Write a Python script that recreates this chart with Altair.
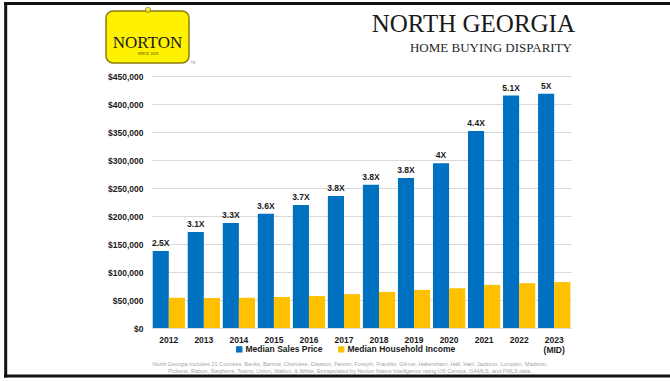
import altair as alt
import pandas as pd

years = ["2012", "2013", "2014", "2015", "2016", "2017", "2018", "2019",
         "2020", "2021", "2022", "2023 (MID)"]
sales_price = [137500, 171500, 187500, 204000, 219500, 235500, 256000, 268000,
               294000, 352000, 415000, 418500]
household_income = [54000, 53500, 54000, 55500, 57000, 60500, 64500, 68000,
                    71000, 77000, 80000, 82000]
ratio_labels = ["2.5X", "3.1X", "3.3X", "3.6X", "3.7X", "3.8X", "3.8X", "3.8X",
                "4X", "4.4X", "5.1X", "5X"]
series_names = ["Median Sales Price", "Median Household Income"]
y_ticks = [0, 50000, 100000, 150000, 200000, 250000, 300000, 350000, 400000, 450000]

title_main = "NORTH GEORGIA"
title_sub = "HOME BUYING DISPARITY"
footnote_1 = ("North Georgia includes 21 Counties: Banks, Barrow, Cherokee, Dawson, Fannin, "
              "Forsyth, Franklin, Gilmer, Habersham, Hall, Hart, Jackson, Lumpkin, Madison,")
footnote_2 = ("Pickens, Rabun, Stephens, Towns, Union, Walton, & White. Extrapolated by Norton "
              "Native Intelligence using US Census, GAMLS, and FMLS data.")

rows = []
for yr, s, inc, r in zip(years, sales_price, household_income, ratio_labels):
    rows.append({"year": yr, "series": series_names[0], "value": s, "ratio": r})
    rows.append({"year": yr, "series": series_names[1], "value": inc, "ratio": ""})
df = pd.DataFrame(rows)

SANS = "Liberation Sans"
SERIF = "Liberation Serif"

x_axis = alt.Axis(title=None, labelAngle=0, ticks=False, domain=True,
                  domainColor="#d9d9d9", labelPadding=7, labelLineHeight=10,
                  labelFont=SANS, labelFontSize=8.5, labelFontWeight="bold",
                  labelColor="#1a1a1a", labelOverlap=False,
                  labelExpr="split(datum.label, ' ')")
y_axis = alt.Axis(title=None, values=y_ticks, format="$,.0f", domain=False,
                  ticks=False, grid=True, gridColor="#d9d9d9", labelPadding=9,
                  labelOverlap=False, labelFlush=False,
                  labelFont=SANS, labelFontSize=8.5, labelFontWeight="bold",
                  labelColor="#1a1a1a")
x_scale = alt.Scale(paddingInner=0.08, paddingOuter=0.02)
y_scale = alt.Scale(domain=[0, 450000], nice=False)

x_enc = alt.X("year:N", sort=years, scale=x_scale, axis=x_axis)
y_enc = alt.Y("value:Q", scale=y_scale, axis=y_axis)
xoff = alt.XOffset("series:N", sort=series_names)

bars = alt.Chart(df).mark_bar().encode(
    x=x_enc, y=y_enc, xOffset=xoff,
    color=alt.Color("series:N",
                    scale=alt.Scale(domain=series_names, range=["#0070C0", "#FFC000"]),
                    legend=alt.Legend(title=None, orient="none", legendX=83, legendY=269,
                                      direction="horizontal", symbolType="square",
                                      symbolSize=40, symbolStrokeWidth=0, padding=0,
                                      labelFont=SANS, labelFontSize=8.5,
                                      labelFontWeight="bold", labelColor="#1a1a1a",
                                      columnPadding=14, labelOffset=2)),
)

labels = alt.Chart(df).transform_filter(
    alt.datum.series == series_names[0]
).mark_text(baseline="bottom", dy=-3, font=SANS, fontSize=8.5, fontWeight="bold",
            color="#1a1a1a").encode(
    x=x_enc, xOffset=xoff, y=y_enc, text="ratio:N")


def note(text, x, y, **kw):
    return alt.Chart(pd.DataFrame({"t": [text]})).mark_text(**kw).encode(
        text="t:N", x=alt.value(x), y=alt.value(y))


one = pd.DataFrame({"k": [0]})

border_top = alt.Chart(one).mark_rule(color="#111111", strokeWidth=3).encode(
    x=alt.value(-148), x2=alt.value(518), y=alt.value(-72.5))
border_left = alt.Chart(one).mark_rule(color="#111111", strokeWidth=3).encode(
    x=alt.value(-146.3), y=alt.value(-74), y2=alt.value(301.5))
border_bottom = alt.Chart(one).mark_rule(color="#111111", strokeWidth=3).encode(
    x=alt.value(-148), x2=alt.value(518), y=alt.value(300))

logo_box = alt.Chart(one).mark_rect(fill="#FFF200", stroke="#8c7c10", strokeWidth=1.5,
                                    cornerRadius=7).encode(
    x=alt.value(-46), x2=alt.value(37), y=alt.value(-65), y2=alt.value(-13))
logo_ring = alt.Chart(one).mark_point(shape="circle", size=28, filled=True,
                                      fill="#FFF200", stroke="#8c7c10",
                                      strokeWidth=1).encode(
    x=alt.value(-4), y=alt.value(-66))
logo_text = note("NORTON", -4.5, -28, font=SERIF, fontSize=17, color="#1a1a1a",
                 align="center", baseline="alphabetic")
logo_since = note("SINCE 1839", -4, -21.5, font=SERIF, fontSize=4, color="#3a3a00",
                  align="center", baseline="alphabetic")
logo_tm = note("TM", 41, -12, font=SANS, fontSize=3, color="#888888",
               align="center", baseline="alphabetic")

t_main = note(title_main, 423, -44.5, font=SERIF, fontSize=25, color="#1a1a1a",
              align="right", baseline="alphabetic")
t_sub = note(title_sub, 420, -24.5, font=SERIF, fontSize=13, color="#262626",
             align="right", baseline="alphabetic")
f1 = note(footnote_1, 198, 290, font=SANS, fontSize=5.6, color="#a6a6a6",
          align="center", baseline="alphabetic")
f2 = note(footnote_2, 198, 297, font=SANS, fontSize=5.6, color="#a6a6a6",
          align="center", baseline="alphabetic")

chart = alt.layer(
    bars, labels, border_top, border_left, border_bottom,
    logo_box, logo_ring, logo_text, logo_since, logo_tm,
    t_main, t_sub, f1, f2,
).properties(
    width=419, height=252,
    autosize=alt.AutoSizeParams(type="none"),
    padding={"left": 152, "top": 76, "right": 99, "bottom": 53},
    background="white",
).configure_view(stroke=None)

chart.save("out.html", embed_options={"renderer": "svg", "actions": False})
